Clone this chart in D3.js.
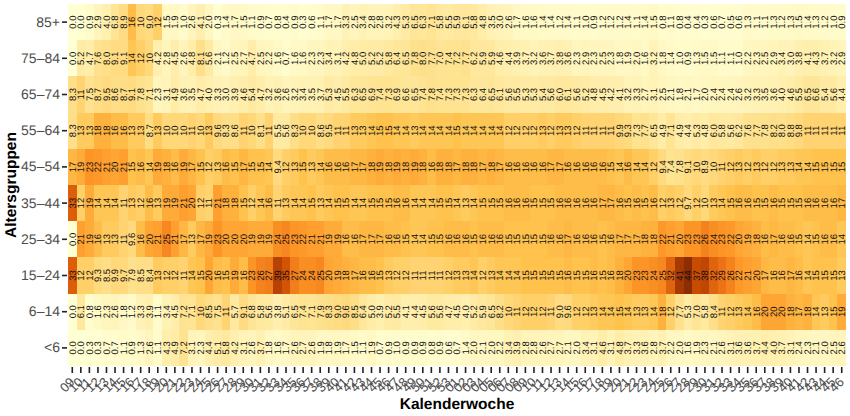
<!DOCTYPE html>
<html lang="de">
<head>
<meta charset="utf-8">
<title>Kalenderwoche / Altersgruppen</title>
<script src="https://cdn.jsdelivr.net/npm/d3@7"></script>
<style>
    body { margin: 0; background: #fff; }
    svg { display: block; font-family: "Liberation Sans", Arial, sans-serif; text-rendering: geometricPrecision; }
    .axis path { display: none; }
    .axis line { stroke: #222; stroke-width: 1.6; }
    .axis text { fill: #4d4d4d; }
</style>
</head>
<body>
<div class="chart__container"></div>
<script>
/*-------------------------------------DATA-------------------------------------*/

const WEEKS = [
    "09","10","11","12","13","14","15","16","17","18","19","20","21","22","23","24","25","26","27","28",
    "29","30","31","32","33","34","35","36","37","38","39","40","41","42","43","44","45","46","47","48",
    "49","50","51","52","53",
    "01","02","03","04","05","06","07","08","09","10","11","12","13","14","15","16","17","18","19","20",
    "21","22","23","24","25","26","27","28","29","30","31","32","33","34","35","36","37","38","39","40",
    "41","42","43","44","45","46"
];

const AGE_GROUPS = ["<6", "6\u201314", "15\u201324", "25\u201334", "35\u201344", "45\u201354", "55\u201364", "65\u201374", "75\u201384", "85+"];

const AGE_UNDER6 = [
    0.0,0.0,0.3,0.3,0.7,0.7,1.1,0.9,1.3,2.6,1.1,4.3,4.9,7.2,3.1,2.3,4.4,5.1,
    5.8,4.2,3.1,2.6,3.7,1.8,1.6,1.7,2.6,2.7,2.6,1.9,1.8,1.9,1.7,1.5,1.1,1.9,0.7,0.9,1.0,0.9,0.9,0.9,
    0.8,0.9,0.6,0.7,1.4,2.0,2.1,2.0,2.2,3.4,3.9,2.8,2.8,2.6,2.7,2.7,2.1,2.0,3.4,3.1,4.6,3.1,4.8,3.7,3.3,
    3.6,2.8,3.7,2.2,2.0,1.6,1.9,2.3,2.1,2.6,3.1,3.6,3.6,3.7,4.4,4.0,3.7,3.1,2.4,2.3,2.1,2.0,2.5,2.6
];
const AGE_6_14 = [
    0.0,6.1,0.8,1.6,2.3,2.6,1.8,1.2,3.3,3.9,1.1,3.4,4.5,7.2,7.1,10,8.5,7.5,
    11,5.7,9.1,6.8,5.8,5.6,3.8,5.1,6.5,7.4,7.1,7.9,8.3,9.0,9.6,8.5,6.4,5.0,3.9,5.2,5.5,4.1,4.4,4.5,
    5.6,5.6,4.7,4.5,4.0,5.2,5.9,6.5,8.2,10,11,12,12,12,11,9.0,9.6,12,12,13,14,14,15,14,13,
    13,14,18,12,7.7,5.3,7.0,5.8,8.4,11,12,13,14,16,20,20,20,18,17,18,14,13,15,19
];
const AGE_15_24 = [
    33,12,12,9.3,8.5,9.9,9.7,7.9,8.5,8.4,13,12,12,11,14,15,20,16,
    15,19,16,23,26,27,39,35,27,24,24,25,20,19,18,17,16,16,15,13,12,12,11,11,
    11,11,12,13,13,14,12,13,14,14,14,15,15,15,15,15,16,15,15,16,15,16,18,20,23,
    23,24,25,32,41,44,37,38,32,29,26,22,21,20,17,16,16,17,16,14,15,15,15,13
];
const AGE_25_34 = [
    0.0,21,19,16,13,13,11,9.6,16,20,21,25,21,17,13,17,19,23,
    20,20,20,19,19,19,24,25,23,22,21,21,19,19,16,16,17,17,17,16,16,15,14,14,
    15,15,16,16,16,15,16,16,16,15,15,15,15,15,16,16,17,16,16,16,15,16,17,17,17,
    18,18,22,21,20,23,23,26,24,23,22,20,19,18,16,17,16,16,15,14,15,16,16,14
];
const AGE_35_44 = [
    33,12,19,14,14,14,11,13,12,16,13,19,19,21,20,12,11,21,
    18,18,15,12,14,16,11,13,14,14,15,13,14,15,15,14,14,15,15,15,16,16,14,14,
    14,15,15,14,13,14,15,15,15,16,16,16,15,15,15,16,16,16,16,16,17,17,16,15,16,
    15,16,12,13,12,9.7,12,10,13,14,15,16,16,15,15,16,15,15,15,16,16,16,16,17
];
const AGE_45_54 = [
    17,19,23,22,21,20,21,15,16,14,19,18,16,19,17,15,12,13,
    16,15,17,15,15,14,9.4,12,13,15,13,14,16,16,16,17,17,18,19,18,19,18,19,18,
    16,18,18,17,18,18,17,18,17,16,16,16,16,16,17,17,16,16,16,16,16,15,14,16,14,
    14,12,9.4,7.4,7.8,9.1,10,8.9,10,11,12,13,12,13,12,12,13,13,14,14,15,15,15,15
];
const AGE_55_64 = [
    8.3,13,13,18,18,16,16,13,13,8.7,13,10,10,10,11,10,13,9.6,
    8.3,8.6,11,10,8.1,11,5.5,5.6,8.3,10,10,8.6,9.5,11,11,13,13,14,15,15,14,14,13,14,
    14,14,14,15,14,14,14,14,14,12,12,12,12,13,12,13,13,12,11,11,11,11,9.9,9.3,7.3,
    7.7,6.5,4.9,7.1,4.9,4.4,5.3,4.8,6.0,5.8,5.6,6.2,7.6,7.7,7.8,8.2,8.0,8.8,9.8,11,11,11,11,11
];
const AGE_65_74 = [
    8.3,11,7.5,8.7,9.5,8.6,8.7,9.1,7.8,7.1,2.3,3.1,4.9,3.6,3.5,4.7,4.0,3.3,
    3.0,3.9,4.6,5.4,4.7,3.2,3.6,2.6,3.2,3.4,3.5,3.7,5.3,4.5,5.5,6.3,6.5,6.9,7.4,7.3,6.9,6.6,6.5,7.4,
    7.8,7.4,7.3,7.3,7.3,6.3,6.4,6.5,6.1,5.6,5.5,5.3,5.3,5.4,5.6,6.0,6.1,5.6,5.2,4.8,4.5,4.2,4.1,3.2,3.3,
    2.7,3.1,2.5,2.1,1.8,2.1,1.7,2.0,2.4,2.4,2.4,2.6,3.2,3.3,3.5,3.6,4.0,4.6,5.5,6.5,6.6,5.4,5.6,4.4
];
const AGE_75_84 = [
    0.0,5.2,4.7,7.6,8.0,9.1,9.1,14,12,10,4.2,2.8,4.5,2.6,4.8,8.1,5.6,2.1,
    1.2,2.5,2.7,4.7,2.5,2.2,1.6,0.7,1.6,1.6,2.3,2.3,3.4,3.1,4.2,4.8,5.0,5.2,5.2,5.8,6.4,6.5,7.8,8.0,
    7.7,7.0,7.4,7.2,7.7,6.2,5.9,5.9,4.6,4.4,3.9,3.7,3.2,3.6,3.7,3.8,3.6,2.3,2.9,2.3,2.5,2.3,1.8,1.9,2.0,
    1.6,3.2,1.8,1.4,1.0,0.9,1.3,1.5,1.5,1.1,1.1,1.0,2.2,2.3,2.5,2.9,3.4,3.0,3.8,4.1,4.3,3.7,3.2,2.9
];
const AGE_85_PLUS = [
    0.0,0.0,0.9,2.9,4.0,6.8,8.9,16,10,9.0,12,1.5,1.9,1.0,2.6,4.1,2.0,0.3,
    1.4,1.7,1.5,1.1,0.9,0.7,0.8,0.4,0.9,0.3,0.6,1.1,1.7,1.7,3.3,2.5,3.4,2.8,2.8,3.2,4.3,5.3,6.5,6.3,
    7.1,5.8,5.5,5.9,6.1,5.8,4.8,3.5,3.0,2.6,1.7,1.6,1.6,1.4,1.4,1.2,1.4,1.1,1.0,0.9,1.2,1.2,1.2,1.4,1.1,
    1.4,1.5,0.8,1.1,0.8,0.4,0.4,0.3,0.6,0.7,0.5,0.6,1.3,1.1,1.1,1.3,1.2,1.3,1.5,1.4,1.3,1.2,1.0,0.9
];

const PALETTE = ["#ffffd4", "#fee391", "#fec44f", "#fe9929", "#ec7014", "#cc4c02", "#8c2d04"];

/*-------------------------------------INIT-------------------------------------*/

const CHART__WIDTH = 850;
const CHART__HEIGHT = 416;

const MARGIN = {
    top: 4,
    right: 4,
    bottom: 50,
    left: 68
}

const ROWS = [AGE_UNDER6, AGE_6_14, AGE_15_24, AGE_25_34, AGE_35_44, AGE_45_54, AGE_55_64, AGE_65_74, AGE_75_84, AGE_85_PLUS];

// week numbers repeat across the two years, so the x scale runs on the position
const CELLS = ROWS.flatMap((row, r) => row.map((value, w) => ({ age: AGE_GROUPS[r], week: w, value: value })));

/*-------------------------------------Graph-------------------------------------*/

const SVG = d3.select(".chart__container").append("svg");

SVG.attr("width", CHART__WIDTH).attr("height", CHART__HEIGHT);

const x = d3.scaleBand()
    .domain(WEEKS.map((d, i) => i))
    .range([MARGIN.left, CHART__WIDTH - MARGIN.right]);

const y = d3.scaleBand()
    .domain(AGE_GROUPS)
    .range([CHART__HEIGHT - MARGIN.bottom, MARGIN.top]);

const color = d3.scaleLinear()
    .domain(PALETTE.map((d, i) => 44 * i / (PALETTE.length - 1)))
    .range(PALETTE)
    .interpolate(d3.interpolateLab);

const formatValue = (v) => v < 10 ? v.toFixed(1) : String(Math.round(v));

//Cells

SVG.append("g")
    .selectAll("rect")
    .data(CELLS)
    .join("rect")
    .attr("x", d => x(d.week))
    .attr("y", d => y(d.age))
    .attr("width", x.bandwidth())
    .attr("height", y.bandwidth())
    .attr("shape-rendering", "crispEdges")
    .attr("fill", d => color(d.value));

//Cell labels

SVG.append("g")
    .selectAll("text")
    .data(CELLS)
    .join("text")
    .attr("transform", d => `translate(${x(d.week) + x.bandwidth() / 2},${y(d.age) + y.bandwidth() / 2}) rotate(-90)`)
    .attr("text-anchor", "middle")
    .attr("dy", "0.35em")
    .attr("font-size", 9.5)
    .attr("fill", "#111")
    .text(d => formatValue(d.value));

//Axes

const xAxis = SVG.append("g")
    .attr("class", "axis")
    .attr("transform", `translate(0,${CHART__HEIGHT - MARGIN.bottom + 1})`)
    .call(d3.axisBottom(x).tickSize(6).tickSizeOuter(0).tickFormat(i => WEEKS[i]));

xAxis.selectAll("text")
    .attr("font-size", 13)
    .attr("text-anchor", "middle")
    .attr("y", 0)
    .attr("dy", 0)
    .attr("transform", "translate(-2,21) rotate(-45)");

const yAxis = SVG.append("g")
    .attr("class", "axis")
    .attr("transform", `translate(${MARGIN.left - 1},0)`)
    .call(d3.axisLeft(y).tickSize(5).tickSizeOuter(0));

yAxis.selectAll("text").attr("font-size", 14).attr("x", -7);

//Axis titles

SVG.append("text")
    .attr("x", 457)
    .attr("y", 409)
    .attr("text-anchor", "middle")
    .attr("font-size", 15.5)
    .attr("font-weight", "bold")
    .text("Kalenderwoche");

SVG.append("text")
    .attr("transform", `translate(16,${(MARGIN.top + CHART__HEIGHT - MARGIN.bottom) / 2}) rotate(-90)`)
    .attr("text-anchor", "middle")
    .attr("font-size", 15.5)
    .attr("font-weight", "bold")
    .text("Altersgruppen");
</script>
</body>
</html>
